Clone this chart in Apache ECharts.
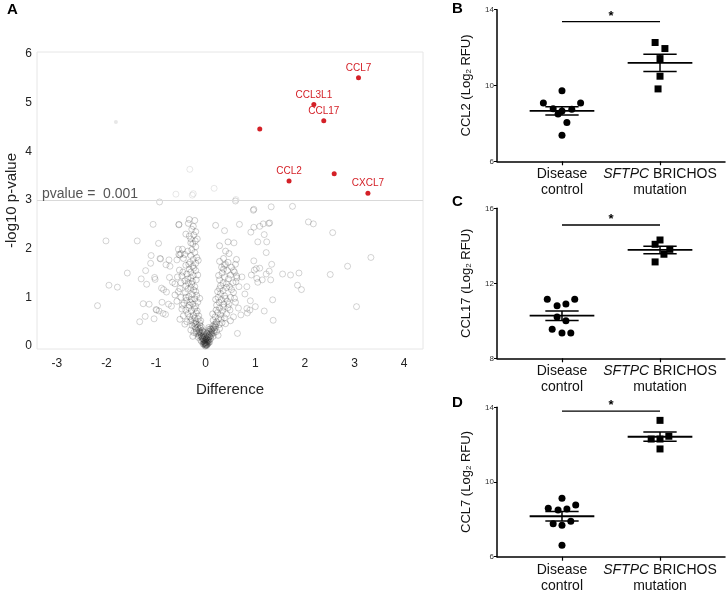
<!DOCTYPE html>
<html>
<head>
<meta charset="utf-8">
<script src="https://cdn.jsdelivr.net/npm/echarts@6/dist/echarts.min.js"></script>
<style>html,body{margin:0;padding:0;background:#fff}#c{width:726px;height:592px}</style>
</head>
<body>
<div id="c"></div>
<script>
// ---------- Panel A data (volcano) ----------
const xTicksA = [-3, -2, -1, 0, 1, 2, 3, 4];
const yTicksA = [0, 1, 2, 3, 4, 5, 6];
const pThresholdLog = 3;
const sigGenes = [
  [3.08, 5.51, 'CCL7'], [2.18, 4.96, 'CCL3L1'], [2.38, 4.63, 'CCL17'],
  [1.09, 4.46, ''], [1.68, 3.39, 'CCL2'], [2.59, 3.54, ''], [3.27, 3.14, 'CXCL7']
];
const faintPoints = [
  [-0.32, 3.63], [-0.6, 3.12], [-0.25, 3.13], [-0.27, 3.1], [0.17, 3.24], [0.61, 3.01]
];
const faintFilled = [[-1.81, 4.6]];
const grayOutliers = [
  [-2.18,0.83],[-1.95,1.25],[-1.78,1.21],[-2.01,2.16],[-1.58,1.50],[-1.38,2.16],[-1.30,1.38],[-1.33,0.50],
  [-1.22,0.61],[-1.26,0.87],[-1.19,1.27],[-1.14,0.86],[-1.21,1.55],[-1.11,1.70],[-1.10,1.86],[-1.03,1.41],
  [-1.02,1.37],[-1.06,2.50],[-0.95,2.11],[-0.93,2.96],[-1.04,0.56],[-1.00,0.75],[-0.86,0.67],[-0.81,0.65],
  [-0.91,1.79],[-0.89,1.19],[-0.85,1.16],[-0.79,1.11],[-0.80,1.67],[-0.74,1.77],[-0.72,1.64],[-0.73,1.41],
  [-0.75,0.86],[-0.69,0.82],[-0.67,1.31],[-0.58,1.77],[-0.55,1.99],[-0.54,2.49],[-0.52,1.87],[-0.92,1.80],
  [-0.99,0.74],[-0.94,0.72],[-0.88,0.9],
  [0.60,2.98],[0.38,2.37],[0.68,2.50],[0.57,2.12],[0.97,2.81],[0.96,2.79],[1.32,2.86],[1.75,2.87],
  [0.91,2.34],[0.97,2.44],[1.09,2.46],[1.16,2.51],[1.27,2.52],[1.29,2.53],[1.18,2.29],[1.05,2.14],
  [1.23,2.14],[1.22,1.92],[2.07,2.55],[2.17,2.51],[2.56,2.33],[3.33,1.82],[2.86,1.64],[2.51,1.47],
  [1.55,1.48],[1.71,1.46],[1.88,1.50],[1.85,1.25],[1.93,1.16],[3.04,0.81],[1.33,1.68],[1.28,1.54],
  [1.31,1.36],[1.35,0.95],[1.36,0.53],[0.97,1.75],[1.02,1.59],[0.98,1.56],[1.09,1.60],[1.03,1.39],
  [1.22,1.48],[1.05,1.31],[0.83,1.22],[0.73,1.42],[0.63,1.40],[0.61,1.32],[0.67,1.22],[0.56,1.55],
  [0.40,1.68],[0.79,1.07],[0.90,0.93],[0.83,0.77],[0.84,0.68],[1.00,0.81],[1.18,0.72],[0.71,0.64],
  [0.64,0.26],[0.66,0.78],[0.49,0.74],[0.56,0.60],[0.92,1.46],[1.14,1.36],[0.89,0.74]
];
const grayCore = [
  [0,0.02],[0.01,0.04],[-0.02,0.03],[0.03,0.06],[-0.04,0.05],[0.02,0.09],[-0.01,0.08],[0.05,0.11],[-0.05,0.1],
  [-0.03,0.13],[0.04,0.14],[0.07,0.12],[-0.07,0.15],[0.0,0.11],[0.01,0.15],[-0.02,0.18],[0.06,0.17],[-0.06,0.2],
  [0.09,0.19],[-0.09,0.22],[0.02,0.01],[-0.01,0.0],[0.03,0.03],[-0.03,0.07],[0.06,0.08],[-0.05,0.14],
  [-0.01,0.05],[0.02,0.07],[-0.03,0.1],[0.04,0.09],[0.0,0.14],[-0.06,0.17],[0.07,0.2],[-0.08,0.19],[0.1,0.15],
  [-0.1,0.12],[0.03,0.19],[-0.04,0.22],[0.05,0.23],[-0.11,0.27],[0.12,0.25],[-0.13,0.21],[0.08,0.3],[-0.06,0.3],
  [0.11,0.34],[-0.15,0.28],[0.17,0.27],[-0.19,0.26],[0.14,0.41],[-0.12,0.43],[-0.2,0.45],[0.21,0.46],[0.01,0.02],
  [-0.02,0.06],[0.0,0.07],[0.03,0.12],[-0.01,0.12],[0.02,0.16],[-0.05,0.04],[0.05,0.05],[0.08,0.08],[-0.08,0.09],
  [0.0,0.2],[-0.03,0.28],[0.03,0.26],[0.06,0.34],
  [-0.1,0.26],[-0.12,0.3],[-0.08,0.28],[-0.14,0.34],[-0.11,0.37],[-0.16,0.39],[-0.13,0.24],[-0.18,0.31],[-0.2,0.36],
  [-0.07,0.32],[0.08,0.24],[0.1,0.27],[0.12,0.31],[0.11,0.22],[0.14,0.35],[0.16,0.38],[0.13,0.28],[0.18,0.33],
  [0.2,0.39],[0.09,0.35],[-0.22,0.4],[0.22,0.3],[-0.24,0.28],[-0.04,0.25],[0.05,0.3],[0.15,0.2],[-0.15,0.18],
  [-0.26,0.2],[0.25,0.22],[-0.3,0.33],[0.28,0.36],[-0.09,0.4],[0.06,0.38],
  [-0.17,0.44],[-0.2,0.5],[-0.24,0.47],[-0.28,0.55],[-0.15,0.56],[-0.32,0.6],[-0.25,0.63],[-0.19,0.68],[-0.36,0.66],
  [-0.29,0.72],[-0.4,0.74],[-0.22,0.77],[-0.34,0.79],[-0.45,0.62],[-0.12,0.48],[-0.14,0.62],[-0.38,0.5],[-0.48,0.76],
  [-0.27,0.42],[-0.42,0.45],[-0.52,0.55],[-0.3,0.52],[-0.17,0.72],[-0.22,0.58],[-0.1,0.52],
  [0.18,0.45],[0.22,0.5],[0.26,0.56],[0.19,0.6],[0.3,0.64],[0.24,0.69],[0.34,0.72],[0.28,0.78],[0.38,0.58],
  [0.42,0.66],[0.21,0.74],[0.15,0.53],[0.33,0.48],[0.45,0.79],[0.27,0.44],[0.36,0.8],[0.4,0.46],[0.5,0.52],
  [0.14,0.66],[0.31,0.56],[0.19,0.42],
  [-0.2,0.82],[-0.26,0.86],[-0.31,0.9],[-0.38,0.94],[-0.22,0.97],[-0.44,0.88],[-0.34,1.02],[-0.27,1.06],[-0.5,1.0],
  [-0.41,1.1],[-0.18,1.04],[-0.24,1.15],[-0.36,1.17],[-0.55,1.12],[-0.3,1.2],[-0.47,0.84],[-0.58,0.92],[-0.16,0.9],
  [-0.62,1.05],[-0.12,0.98],[-0.29,0.96],[-0.4,1.0],[-0.2,1.12],[-0.52,1.18],[-0.33,0.84],
  [0.22,0.84],[0.27,0.9],[0.32,0.95],[0.25,1.0],[0.38,1.03],[0.3,1.08],[0.44,0.92],[0.35,1.14],[0.5,1.0],
  [0.28,1.18],[0.42,1.2],[0.56,1.1],[0.2,0.96],[0.47,0.86],[0.6,0.9],[0.36,0.86],[0.52,1.16],[0.24,1.12],
  [0.4,0.98],[0.58,0.98],
  [-0.22,1.22],[-0.28,1.27],[-0.35,1.3],[-0.42,1.34],[-0.19,1.36],[-0.3,1.4],[-0.5,1.3],[-0.25,1.45],[-0.38,1.48],
  [-0.46,1.52],[-0.2,1.55],[-0.33,1.58],[-0.57,1.42],[-0.62,1.28],[-0.27,1.33],[-0.16,1.46],[-0.4,1.24],[-0.53,1.56],
  [-0.24,1.6],[-0.36,1.38],[-0.48,1.44],[-0.3,1.52],
  [0.3,1.24],[0.35,1.3],[0.28,1.36],[0.42,1.28],[0.38,1.42],[0.46,1.38],[0.33,1.5],[0.5,1.46],[0.44,1.55],
  [0.55,1.3],[0.26,1.45],[0.58,1.52],[0.36,1.58],[0.48,1.22],[0.62,1.44],
  [-0.26,1.64],[-0.2,1.7],[-0.32,1.72],[-0.4,1.66],[-0.25,1.78],[-0.18,1.82],[-0.3,1.86],[-0.45,1.8],[-0.22,1.92],
  [-0.36,1.95],[-0.28,1.98],[-0.5,1.9],[-0.15,1.76],[-0.42,1.88],[-0.34,1.68],[-0.47,1.99],[-0.54,1.88],
  [0.32,1.62],[0.38,1.66],[0.45,1.72],[0.36,1.8],[0.52,1.62],[0.28,1.74],[0.6,1.68],[0.47,1.9],[0.4,1.95],[0.62,1.78],
  [-0.2,2.04],[-0.26,2.1],[-0.21,2.16],[-0.3,2.2],[-0.24,2.28],[-0.2,2.35],[-0.28,2.4],[-0.33,2.26],[-0.25,2.46],
  [-0.35,2.52],[-0.22,2.58],[-0.3,2.12],[-0.4,2.3],[-0.17,2.2],[-0.33,2.6],[-0.54,2.5],
  [0.28,2.06],[0.45,2.14],[0.2,2.48]
];

// ---------- Panels B-D data ----------
const groupLabels = ['Disease\ncontrol', '{i|SFTPC} BRICHOS\nmutation'];
const ccl2Control = [9.72, 9.07, 9.07, 8.77, 8.75, 8.65, 8.5, 8.05, 7.37];
const ccl2ControlJitter = [0, -0.19, 0.19, -0.09, 0.1, 0.0, -0.04, 0.05, 0];
const ccl2Mutation = [12.27, 11.95, 11.42, 10.49, 9.82];
const ccl2MutationJitter = [-0.05, 0.05, 0, 0, -0.02];
const ccl17Control = [11.15, 11.15, 10.8, 10.9, 10.2, 10.0, 9.55, 9.35, 9.35];
const ccl17ControlJitter = [-0.15, 0.13, -0.05, 0.04, -0.05, 0.04, -0.1, 0, 0.09];
const ccl17Mutation = [14.31, 14.08, 13.81, 13.55, 13.14];
const ccl17MutationJitter = [0, -0.05, 0.1, 0.04, -0.05];
const ccl7Control = [9.13, 8.59, 8.5, 8.55, 8.77, 7.77, 7.68, 7.9, 6.61];
const ccl7ControlJitter = [0, -0.14, -0.04, 0.05, 0.14, -0.09, 0, 0.09, 0];
const ccl7Mutation = [13.3, 12.3, 12.3, 12.45, 11.77];
const ccl7MutationJitter = [0, -0.09, 0, 0.09, 0];
const sigBarLevels = [13.37, 15.11, 13.8];
const yTicksB = [6, 10, 14];
const yTicksC = [8, 12, 16];
const yTicksD = [6, 10, 14];
const yNames = ['CCL2', 'CCL17', 'CCL7'];

// ---------- helpers ----------
function stats(arr) {
  const n = arr.length;
  const m = arr.reduce((a, b) => a + b, 0) / n;
  const sd = Math.sqrt(arr.reduce((a, b) => a + (b - m) * (b - m), 0) / (n - 1));
  return [m, sd / Math.sqrt(n)];
}
const FONT = 'Liberation Sans, Arial, Helvetica, sans-serif';

const panels = [
  { ctrl: ccl2Control, ctrlJ: ccl2ControlJitter, mut: ccl2Mutation, mutJ: ccl2MutationJitter, ticks: yTicksB, sig: sigBarLevels[0], name: yNames[0], top: 9.7, height: 151.6 },
  { ctrl: ccl17Control, ctrlJ: ccl17ControlJitter, mut: ccl17Mutation, mutJ: ccl17MutationJitter, ticks: yTicksC, sig: sigBarLevels[1], name: yNames[1], top: 208.3, height: 150 },
  { ctrl: ccl7Control, ctrlJ: ccl7ControlJitter, mut: ccl7Mutation, mutJ: ccl7MutationJitter, ticks: yTicksD, sig: sigBarLevels[2], name: yNames[2], top: 407.3, height: 149.4 }
];

const grids = [{ left: 37, top: 52, width: 386, height: 297, show: true, borderColor: '#e6e6e6', borderWidth: 1, containLabel: false, outerBoundsMode: 'none' }];
const xAxes = [{
  type: 'value', gridIndex: 0, min: -3.4, max: 4.38, name: 'Difference', nameLocation: 'middle', nameGap: 33,
  nameTextStyle: { fontSize: 15, color: '#222', fontFamily: FONT },
  axisLine: { show: false }, axisTick: { show: false }, splitLine: { show: false },
  axisLabel: { customValues: xTicksA, fontSize: 12, color: '#222', margin: 9, fontFamily: FONT }
}];
const yAxes = [{
  type: 'value', gridIndex: 0, min: -0.06, max: 6.04, name: '-log10 p-value', nameLocation: 'middle', nameGap: 18,
  nameMoveOverlap: false,
  nameTextStyle: { fontSize: 15, color: '#222', fontFamily: FONT },
  axisLine: { show: false }, axisTick: { show: false }, splitLine: { show: false },
  axisLabel: { customValues: yTicksA, fontSize: 12, color: '#222', margin: 5, fontFamily: FONT }
}];
const hollow = (c) => ({ color: 'rgba(255,255,255,0)', borderColor: c, borderWidth: 0.8, opacity: 1 });
const series = [
  { type: 'scatter', xAxisIndex: 0, yAxisIndex: 0, data: grayCore, symbolSize: 6, itemStyle: hollow('rgba(30,30,30,0.28)'), silent: true,
    markLine: { silent: true, symbol: ['none', 'none'], lineStyle: { color: '#d9d9d9', width: 1, type: 'solid' },
      label: { show: true, position: 'insideStartTop', formatter: 'pvalue =  0.001', fontSize: 14, color: '#555', fontFamily: FONT, distance: [5, -1] },
      data: [{ yAxis: pThresholdLog }] } },
  { type: 'scatter', xAxisIndex: 0, yAxisIndex: 0, data: grayOutliers, symbolSize: 6, itemStyle: hollow('rgba(60,60,60,0.28)'), silent: true },
  { type: 'scatter', xAxisIndex: 0, yAxisIndex: 0, data: faintPoints, symbolSize: 6, itemStyle: hollow('rgba(120,120,120,0.22)'), silent: true },
  { type: 'scatter', xAxisIndex: 0, yAxisIndex: 0, data: faintFilled, symbolSize: 4, itemStyle: { color: 'rgba(160,160,160,0.25)', opacity: 1 }, silent: true },
  { type: 'scatter', xAxisIndex: 0, yAxisIndex: 0, data: sigGenes, symbolSize: 5, itemStyle: { color: '#d42027', opacity: 1 }, silent: true,
    label: { show: true, position: 'top', distance: 2, formatter: p => p.data[2], color: '#d42027', fontSize: 10, fontFamily: FONT } }
];

panels.forEach((p, i) => {
  const gi = i + 1;
  grids.push({ left: 497, top: p.top, width: 228, height: p.height, containLabel: false, outerBoundsMode: 'none' });
  xAxes.push({
    type: 'value', gridIndex: gi, min: 0.337, max: 2.663,
    axisLine: { show: true, onZero: false, lineStyle: { color: '#000', width: 1.5 } },
    axisTick: { show: true, customValues: [1, 2], length: 4, lineStyle: { color: '#000', width: 1.2 } },
    splitLine: { show: false },
    axisLabel: { customValues: [1, 2], formatter: v => groupLabels[Math.round(v) - 1], fontSize: 14, lineHeight: 16, color: '#111', margin: 5, fontFamily: FONT,
      rich: { i: { fontStyle: 'italic', fontSize: 14, color: '#111', fontFamily: FONT } } }
  });
  yAxes.push({
    type: 'value', gridIndex: gi, min: p.ticks[0], max: p.ticks[2],
    name: p.name + ' (Log{sub|2} RFU)', nameLocation: 'middle', nameGap: 24, nameRotate: 90,
    nameTextStyle: { fontSize: 13, color: '#111', fontFamily: FONT, rich: { sub: { fontSize: 8, color: '#111', fontFamily: FONT, padding: [0, 0, -5, 0] } } },
    axisLine: { show: true, lineStyle: { color: '#000', width: 1.5 } },
    axisTick: { show: true, customValues: p.ticks, length: 3, lineStyle: { color: '#000', width: 1 } },
    splitLine: { show: false },
    axisLabel: { customValues: p.ticks, fontSize: 8, color: '#333', margin: 3, fontFamily: FONT }
  });
  const ctrlPts = p.ctrl.map((v, k) => [1 + p.ctrlJ[k], v]);
  const mutPts = p.mut.map((v, k) => [2 + p.mutJ[k], v]);
  series.push({ type: 'scatter', xAxisIndex: gi, yAxisIndex: gi, data: ctrlPts, symbol: 'circle', symbolSize: 7, itemStyle: { color: '#000', opacity: 1 }, silent: true, z: 3 });
  series.push({ type: 'scatter', xAxisIndex: gi, yAxisIndex: gi, data: mutPts, symbol: 'rect', symbolSize: 7, itemStyle: { color: '#000', opacity: 1 }, silent: true, z: 3 });
  const sc = stats(p.ctrl), sm = stats(p.mut);
  series.push({
    type: 'custom', xAxisIndex: gi, yAxisIndex: gi, silent: true, z: 4,
    data: [[1, sc[0], sc[1]], [2, sm[0], sm[1]]],
    renderItem: (params, api) => {
      const g = api.value(0), m = api.value(1), s = api.value(2);
      const c = (x, y) => api.coord([x, y]);
      const ln = (a, b, w) => ({ type: 'line', shape: { x1: a[0], y1: a[1], x2: b[0], y2: b[1] }, style: { stroke: '#000', lineWidth: w } });
      return { type: 'group', children: [
        ln(c(g - 0.33, m), c(g + 0.33, m), 1.8),
        ln(c(g - 0.17, m + s), c(g + 0.17, m + s), 1.5),
        ln(c(g - 0.17, m - s), c(g + 0.17, m - s), 1.5),
        ln(c(g, m - s), c(g, m + s), 1.5)
      ] };
    }
  });
  series.push({
    type: 'custom', xAxisIndex: gi, yAxisIndex: gi, silent: true,
    data: [[1, 2, p.sig]],
    renderItem: (params, api) => {
      const a = api.coord([api.value(0), api.value(2)]);
      const b = api.coord([api.value(1), api.value(2)]);
      return { type: 'group', children: [
        { type: 'line', shape: { x1: a[0], y1: a[1], x2: b[0], y2: b[1] }, style: { stroke: '#000', lineWidth: 1.3 } },
        { type: 'text', style: { text: '*', x: (a[0] + b[0]) / 2, y: a[1] + 1, align: 'center', verticalAlign: 'bottom', fontSize: 13, fontWeight: 'bold', fill: '#000', fontFamily: FONT } }
      ] };
    }
  });
});

const chart = echarts.init(document.getElementById('c'), null, { renderer: 'canvas' });
chart.setOption({
  animation: false,
  backgroundColor: '#fff',
  textStyle: { fontFamily: FONT },
  grid: grids, xAxis: xAxes, yAxis: yAxes, series: series,
  graphic: [
    { type: 'text', left: 7, top: 2, style: { text: 'A', fontSize: 15, fontWeight: 'bold', fill: '#000', fontFamily: FONT } },
    { type: 'text', left: 452, top: 1, style: { text: 'B', fontSize: 15, fontWeight: 'bold', fill: '#000', fontFamily: FONT } },
    { type: 'text', left: 452, top: 194, style: { text: 'C', fontSize: 15, fontWeight: 'bold', fill: '#000', fontFamily: FONT } },
    { type: 'text', left: 452, top: 395, style: { text: 'D', fontSize: 15, fontWeight: 'bold', fill: '#000', fontFamily: FONT } }
  ]
});
</script>
</body>
</html>
